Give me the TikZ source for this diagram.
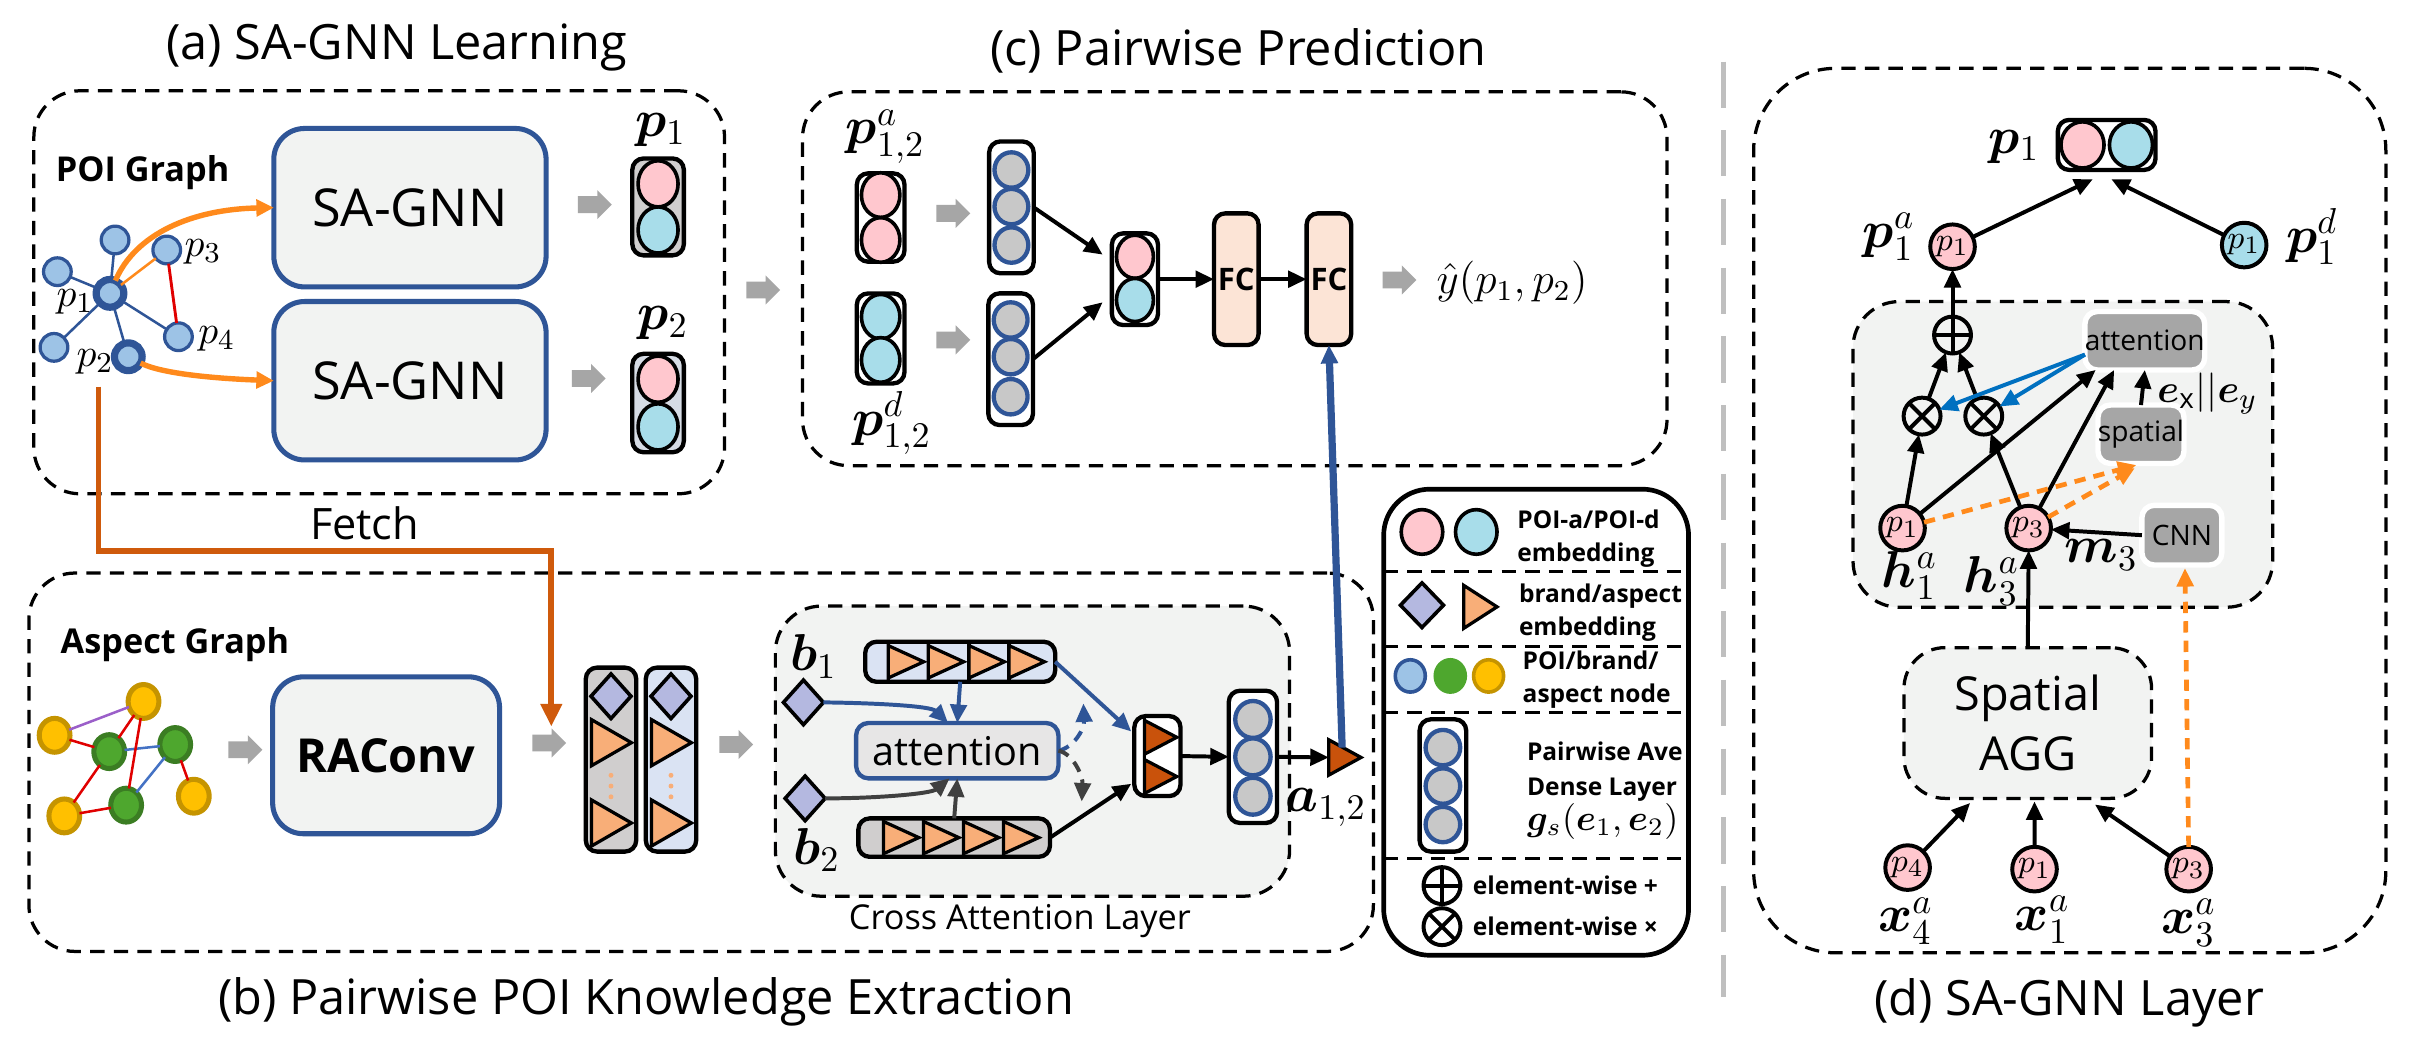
\documentclass[tikz,border=0pt]{standalone}
\usepackage{amsmath}
\usepackage{bm}
\usepackage{fontspec}
\setmainfont{Open Sans}
\usetikzlibrary{shapes.geometric,shapes.arrows,arrows.meta,calc}
\definecolor{pinkc}{HTML}{FFC7CE}
\definecolor{cyanc}{HTML}{A8DDEA}
\definecolor{poiblue}{HTML}{9DC3E6}
\definecolor{dblue}{HTML}{2F5597}
\definecolor{boxfill}{HTML}{F2F3F2}
\definecolor{vgray}{HTML}{D0CECE}
\definecolor{vblue}{HTML}{DAE3F3}
\definecolor{vbg}{HTML}{D6DCE5}
\definecolor{garr}{HTML}{A6A6A6}
\definecolor{lorange}{HTML}{FF8A1C}
\definecolor{forange}{HTML}{CF5A0C}
\definecolor{trif}{HTML}{F8AE78}
\definecolor{trid}{HTML}{C9520B}
\definecolor{diaf}{HTML}{B4B8E0}
\definecolor{fcfill}{HTML}{FCE4D6}
\definecolor{attfill}{HTML}{E7E6E6}
\definecolor{dkg}{HTML}{A6A6A6}
\definecolor{ablue}{HTML}{0070C0}
\definecolor{yel}{HTML}{FFC000}
\definecolor{yelb}{HTML}{C59400}
\definecolor{grn}{HTML}{4EA72E}
\definecolor{grnb}{HTML}{3B7D23}
\definecolor{ered}{HTML}{E00000}
\definecolor{eblue}{HTML}{4472C4}
\definecolor{epurp}{HTML}{9B5FC9}
\definecolor{circg}{HTML}{C8C8C8}
\definecolor{sepg}{HTML}{BFBFBF}
\definecolor{dgray}{HTML}{404040}
\tikzset{
 sz/.style 2 args={minimum width=#1*0.15mm,minimum height=#2*0.15mm,inner sep=0pt,outer sep=0pt},
 dsh/.style={dash pattern=on 1.4mm off 0.9mm},
 sdsh/.style={dash pattern=on 1.1mm off 0.8mm},
 panel/.style={draw=black,line width=0.9pt,dsh,rounded corners=4.5mm},
 ttl/.style={font=\fontsize{13.5}{16}\selectfont},
 glab/.style={font=\bfseries\fontsize{9.5}{11}\selectfont,inner sep=0pt},
 garrow/.style={single arrow,fill=garr,draw=none,minimum height=3.3mm,minimum width=2.7mm,inner sep=0.75mm,single arrow head extend=0.6mm},
 poin/.style={circle,draw=dblue,fill=poiblue,line width=0.9pt,sz={18}{18}},
 gedge/.style={draw=dblue,line width=0.7pt},
 plab/.style={font=\fontsize{11}{12}\selectfont,inner sep=0pt},
 mlab/.style={font=\fontsize{14}{16}\selectfont,inner sep=0pt},
 oarr/.style={draw=lorange,line width=1.5pt,-{Triangle[length=1.7mm,width=1.6mm]}},
 fetchl/.style={draw=forange,line width=1.6pt,-{Triangle[length=2.2mm,width=2mm]}},
 sabox/.style={draw=dblue,line width=1.4pt,fill=boxfill,rounded corners=3mm},
 vbox/.style={draw=black,line width=1.2pt,rounded corners=1.1mm},
 vc/.style={ellipse,draw=black,line width=1pt},
 gc/.style={ellipse,draw=dblue,fill=circg,line width=1.2pt},
 fcbox/.style={draw=black,fill=fcfill,line width=1.2pt,rounded corners=1.1mm,font=\bfseries\fontsize{8.6}{10}\selectfont},
 barr/.style={draw=black,line width=1.1pt,-{Triangle[length=1.8mm,width=1.6mm]}},
 blarr/.style={draw=dblue,line width=1.1pt,-{Triangle[length=1.8mm,width=1.6mm]}},
 gyarr/.style={draw=dgray,line width=1.1pt,-{Triangle[length=1.8mm,width=1.6mm]}},
 abarr/.style={draw=ablue,line width=1.1pt,-{Triangle[length=1.8mm,width=1.6mm]}},
 odarr/.style={draw=lorange,line width=1.3pt,sdsh,-{Triangle[length=1.8mm,width=1.6mm]}},
 yn/.style={ellipse,draw=yelb,fill=yel,line width=1.4pt,sz={20}{22}},
 gn/.style={ellipse,draw=grnb,fill=grn,line width=1.4pt,sz={20}{22}},
 dia/.style={diamond,draw=black,fill=diaf,line width=1pt},
 dkbox/.style={fill=dkg,draw=white,line width=1.5pt,rounded corners=1.2mm,font=\fontsize{7.8}{9}\selectfont},
 opl/.style={circle,draw=black,line width=1.1pt,sz={24}{24}},
 pk/.style={circle,draw=black,fill=pinkc,line width=1.1pt,sz={29}{29},font=\fontsize{9.5}{10}\selectfont},
 legt/.style={align=left,font=\bfseries\fontsize{6.8}{9.2}\selectfont,inner sep=0pt},
}
\newcommand\mytri[5]{\filldraw[fill=#5,draw=black,line width=0.9pt,line join=miter] ({#1},{#2-#4/2}) -- ({#1+#3},{#2}) -- ({#1},{#2+#4/2}) -- cycle;}
\newcommand\oplusat[2]{\node[opl] (#1) at #2 {}; \draw[line width=1.1pt] (#1.north) -- (#1.south) (#1.east) -- (#1.west);}
\newcommand\otimesat[2]{\node[opl] (#1) at #2 {}; \draw[line width=1.1pt] (#1.north east) -- (#1.south west) (#1.north west) -- (#1.south east);}
\begin{document}
\begin{tikzpicture}[x=0.15mm,y=-0.15mm]
\useasboundingbox (0,0) rectangle (1568,683);
\fill[white] (0,0) rectangle (1568,683);

% ---------- titles
\node[ttl] (tA) at (258,31) {(a) SA-GNN Learning};
\node[ttl] (tC) at (805,33) {(c) Pairwise Prediction};
\node[ttl] (tB) at (420,651) {(b) Pairwise POI Knowledge Extraction};
\node[ttl] (tD) at (1345,652) {(d) SA-GNN Layer};

% ---------- panels
\node[panel,sz={449}{262}] (panA) at (246.5,190) {};
\node[panel,sz={562}{243}] (panC) at (802.7,181.2) {};
\node[panel,sz={874}{246}] (panB) at (455.8,495.5) {};
\node[panel,sz={411}{575},rounded corners=8mm] (panD) at (1345.5,331.9) {};
\coordinate (sepT) at (1120.5,40);
\coordinate (sepB) at (1120.5,648);
\draw[sepg,line width=1.3pt,dash pattern=on 4.5mm off 2.2mm] (sepT) -- (sepB);

% ---------- panel (a)
\node[glab,anchor=west] (poiG) at (35.8,112) {POI Graph};
\node[poin] (g1) at (74.8,156) {};
\node[poin] (g3) at (108.4,162.5) {};
\node[poin] (gL) at (37.3,176.6) {};
\node[poin,line width=2pt] (g0) at (71.5,190.7) {};
\node[poin] (g4) at (116,218.9) {};
\node[poin] (gB) at (35.1,225.8) {};
\node[poin,line width=2pt] (g2) at (83.4,231.9) {};
\draw[gedge] (g0) -- (g1);
\draw[gedge] (g0) -- (gL);
\draw[gedge] (g0) -- (gB);
\draw[gedge] (g0) -- (g2);
\draw[gedge] (g0) -- (g4);
\draw[draw=lorange,line width=0.7pt] (g0) -- (g3);
\draw[draw=ered,line width=0.8pt] (g3) -- (g4);
\node[plab] (l3) at (132,163.6) {$p_3$};
\node[plab] (l1) at (48.8,196) {$p_1$};
\node[plab] (l4) at (140.9,220) {$p_4$};
\node[plab] (l2) at (61.8,235) {$p_2$};

\node[sabox,sz={177}{103},font=\fontsize{14.5}{16}\selectfont] (sa1) at (266.5,135) {SA-GNN};
\node[sabox,sz={177}{103},font=\fontsize{14.5}{16}\selectfont] (sa2) at (266.5,247.5) {SA-GNN};
\draw[oarr] (g0) .. controls (88,152) and (125,136) .. (sa1.west);
\draw[oarr] (g2) .. controls (105,243) and (140,246) .. (sa2.west);

\node[garrow] (ga1) at (384,133) {};
\node[garrow] (ga2) at (380,246) {};

\node[vbox,fill=vgray,sz={33.5}{63}] (v1) at (427.8,134.5) {};
\node[vc,fill=pinkc,sz={26}{30}] (v1a) at (427.8,119.5) {};
\node[vc,fill=cyanc,sz={26}{30}] (v1b) at (427.8,149.5) {};
\node[mlab] (lp1) at (429.5,84.5) {$\boldsymbol{p}_1$};
\node[vbox,fill=vbg,sz={33.5}{64}] (v2) at (427.8,262) {};
\node[vc,fill=pinkc,sz={26}{30}] (v2a) at (427.8,246.5) {};
\node[vc,fill=cyanc,sz={26}{30}] (v2b) at (427.8,277.5) {};
\node[mlab] (lp2) at (431,210) {$\boldsymbol{p}_2$};

\node[garrow] (ga3) at (493.4,188.5) {};

% Fetch
\coordinate (fS) at (64,251.4);
\coordinate (fK) at (358.4,358);
\coordinate (fE) at (358.4,472.3);
\draw[fetchl] (fS) |- (fK) -- (fE);
\node[font=\fontsize{12}{14}\selectfont] (fetch) at (237,340) {Fetch};

% ---------- panel (c)
\node[mlab] (lpa) at (575.6,88.8) {$\boldsymbol{p}^{a}_{1,2}$};
\node[mlab] (lpd) at (579.8,275) {$\boldsymbol{p}^{d}_{1,2}$};
\node[vbox,fill=white,sz={31}{57.4}] (ca) at (572.5,141.4) {};
\node[vc,fill=pinkc,sz={25}{29}] (ca1) at (572.5,126.8) {};
\node[vc,fill=pinkc,sz={25}{29}] (ca2) at (572.5,156) {};
\node[vbox,fill=white,sz={31}{58.5}] (cd) at (572.5,220) {};
\node[vc,fill=cyanc,sz={25}{29}] (cd1) at (572.5,205.9) {};
\node[vc,fill=cyanc,sz={25}{29}] (cd2) at (572.5,234) {};
\node[garrow] (ga4) at (617,138.7) {};
\node[garrow] (ga5) at (617,221) {};
\node[vbox,fill=white,sz={29}{85.7}] (d1) at (657.5,134.8) {};
\node[gc,sz={22}{23}] (d1a) at (657.5,110.5) {};
\node[gc,sz={22}{23}] (d1b) at (657.5,134.3) {};
\node[gc,sz={22}{23}] (d1c) at (657.5,159.3) {};
\node[vbox,fill=white,sz={29}{85.6}] (d2) at (657,233.5) {};
\node[gc,sz={22}{23}] (d2a) at (657,208) {};
\node[gc,sz={22}{23}] (d2b) at (657,231.9) {};
\node[gc,sz={22}{23}] (d2c) at (657,257.9) {};
\node[vbox,fill=white,sz={30}{59.6}] (cc) at (737.8,181.5) {};
\node[vc,fill=pinkc,sz={24}{28}] (cc1) at (737.8,166.9) {};
\node[vc,fill=cyanc,sz={24}{28}] (cc2) at (737.8,195) {};
\node[fcbox,sz={29}{85.6}] (fc1) at (803.7,181.5) {FC};
\node[fcbox,sz={29}{85.6}] (fc2) at (863.9,181.5) {FC};
\draw[barr] (d1.east) -- ($(cc.west)+(-6,-16)$);
\draw[barr] (d2.east) -- ($(cc.west)+(-6,15)$);
\draw[barr] (cc.east) -- (fc1.west);
\draw[barr] (fc1.east) -- (fc2.west);
\node[garrow] (ga6) at (907,182) {};
\node[font=\fontsize{11.5}{13}\selectfont,inner sep=0pt] (yhat) at (983,184) {$\hat{y}(p_1,p_2)$};

% ---------- panel (b)
\node[glab,anchor=west] (aspG) at (39,419) {Aspect Graph};
\node[yn] (yT) at (93.3,456) {};
\node[yn] (yL) at (35.5,478) {};
\node[gn] (gC) at (71,488.6) {};
\node[gn] (gR) at (113.9,484) {};
\node[yn] (yBL) at (41.8,530.4) {};
\node[gn] (gBt) at (82,523.4) {};
\node[yn] (yR) at (126,517.6) {};
\draw[epurp,line width=0.7pt] (yL) -- (yT);
\draw[ered,line width=0.7pt] (yL) -- (gC);
\draw[ered,line width=0.7pt] (gC) -- (yT);
\draw[eblue,line width=0.7pt] (gC) -- (gR);
\draw[ered,line width=0.7pt] (gC) -- (yBL);
\draw[ered,line width=0.7pt] (yBL) -- (gBt);
\draw[ered,line width=0.7pt] (gBt) -- (yT);
\draw[eblue,line width=0.7pt] (gBt) -- (gR);
\draw[ered,line width=0.7pt] (gR) -- (yR);

\node[garrow] (ga7) at (156.8,487.4) {};
\node[sabox,sz={147.5}{102},font=\bfseries\fontsize{13}{15}\selectfont] (rac) at (251,491) {RAConv};
\node[garrow] (ga8) at (354.3,483) {};

\node[vbox,fill=vgray,sz={32.8}{119.6}] (vg) at (397.2,493.8) {};
\node[vbox,fill=vblue,sz={32.8}{119.6}] (vb) at (436.2,493.8) {};
\node[dia,sz={26}{29}] (dg) at (397.2,452.6) {};
\node[dia,sz={26}{29}] (db) at (436.2,452.6) {};
\mytri{384.5}{482.8}{26}{30}{trif}
\mytri{384.5}{535}{26}{30}{trif}
\mytri{423.5}{482.8}{26}{30}{trif}
\mytri{423.5}{535}{26}{30}{trif}
\foreach \yy in {504,511,518} {\fill[trif] (397.2,\yy) circle (1.6); \fill[trif] (436.2,\yy) circle (1.6);}
\node[garrow] (ga9) at (475.9,484) {};

% cross attention
\node[panel,fill=boxfill,sz={334.3}{188.6}] (cab) at (671.2,488.3) {};
\node[font=\fontsize{9.5}{11}\selectfont] (calab) at (663,599) {Cross Attention Layer};
\node[mlab] (lb1) at (528.8,427) {$\boldsymbol{b}_1$};
\node[mlab] (lb2) at (531,552.6) {$\boldsymbol{b}_2$};
\node[dia,sz={26}{29}] (bd1) at (522.3,456.6) {};
\node[dia,sz={26}{29}] (bd2) at (523.4,519) {};
\node[vbox,fill=vblue,sz={123.5}{26}] (tr) at (624.2,430.2) {};
\foreach \xx in {577.5,603.5,630,656} {\draw[line width=0.9pt] (\xx,417.2) -- (\xx,443.2); \mytri{\xx}{430.2}{23}{21}{trif}}
\node[vbox,fill=vgray,sz={124.6}{25}] (br) at (620.3,544.5) {};
\foreach \xx in {574.3,600.3,626.3,652.3} {\draw[line width=0.9pt] (\xx,532) -- (\xx,557); \mytri{\xx}{544.5}{23}{21}{trif}}
\node[draw=dblue,fill=attfill,line width=1.2pt,rounded corners=1.2mm,sz={131.5}{36},font=\fontsize{11}{12}\selectfont] (att) at (622.3,488) {attention};
\node[vbox,fill=white,sz={30}{52}] (ov) at (752.4,491.5) {};
\draw[line width=0.9pt] (744,465.4) -- (744,517.6);
\mytri{744}{479.3}{21}{22}{trid}
\mytri{744}{504.8}{21}{22}{trid}
\node[vbox,fill=white,sz={31.4}{86}] (dn) at (814.5,492) {};
\node[gc,sz={23}{24}] (dna) at (814.5,467.7) {};
\node[gc,sz={23}{24}] (dnb) at (814.5,492) {};
\node[gc,sz={23}{24}] (dnc) at (814.5,517.6) {};
\mytri{863.8}{492.4}{21}{23}{trid}
\coordinate (a12w) at (863.8,492.4);
\coordinate (a12t) at (872.5,486);
\node[mlab] (la12) at (862,525) {$\boldsymbol{a}_{1,2}$};
\coordinate (dU) at (704.3,457.3);
\coordinate (dD) at (703.2,521);

\draw[blarr] (bd1.east) .. controls (570,457) and (605,459) .. ($(att.north)+(-6,0)$);
\draw[blarr] (tr.south) -- (att.north);
\draw[gyarr] (bd2.east) .. controls (570,519) and (605,516) .. ($(att.south)+(-5,0)$);
\draw[gyarr] (br.north) -- (att.south);
\draw[blarr] (tr.east) -- ($(ov.west)+(-2,-16)$);
\draw[barr] (br.east) -- ($(ov.west)+(-2,18)$);
\draw[blarr,sdsh] (att.east) .. controls (698,486) and (705,474) .. (dU);
\draw[gyarr,sdsh] (att.east) .. controls (698,490) and (704,505) .. (dD);
\draw[barr] (ov.east) -- (dn.west);
\draw[barr] (dn.east) -- (a12w);
\draw[blarr,line width=2pt] (a12t) -- (fc2.south);

% ---------- legend
\node[draw=black,line width=1.3pt,rounded corners=4.5mm,fill=white,sz={198.2}{303}] (leg) at (998.6,469.5) {};
\node[vc,fill=pinkc,sz={27}{29}] (lg1) at (924.4,345.8) {};
\node[vc,fill=cyanc,sz={27}{29}] (lg2) at (959.7,345.8) {};
\node[legt,anchor=west] (lt1) at (986,350.2) {POI-a/POI-d\\embedding};
\draw[line width=0.9pt,dsh] (899.5,371.3) -- (1097.7,371.3);
\node[dia,sz={28}{29}] (lg3) at (924.4,393.4) {};
\mytri{951.5}{394.5}{21.7}{28}{trif}
\node[legt,anchor=west] (lt2) at (987,398) {brand/aspect\\embedding};
\draw[line width=0.9pt,dsh] (899.5,420.1) -- (1097.7,420.1);
\node[ellipse,draw=dblue,fill=poiblue,line width=1pt,sz={19.5}{21}] (lg4) at (916.8,439.4) {};
\node[ellipse,draw=grn,fill=grn,line width=1pt,sz={19.5}{21}] (lg5) at (942.8,439.4) {};
\node[ellipse,draw=yelb,fill=yel,line width=1pt,sz={19.5}{21}] (lg6) at (967.7,439.4) {};
\node[legt,anchor=west] (lt3) at (989.4,442) {POI/brand/\\aspect node};
\draw[line width=0.9pt,dsh] (899.5,463) -- (1097.7,463);
\node[vbox,fill=white,sz={30.3}{86}] (lg7) at (938,510.6) {};
\node[gc,sz={22.5}{23}] (lg7a) at (938,486) {};
\node[gc,sz={22.5}{23}] (lg7b) at (938,511) {};
\node[gc,sz={22.5}{23}] (lg7c) at (938,536) {};
\node[legt,anchor=west,font=\bfseries\fontsize{6.8}{9.6}\selectfont] (lt4) at (992.2,514) {Pairwise Ave\\Dense Layer\\{\fontsize{10}{10}\selectfont$\boldsymbol{g}_{s}(\boldsymbol{e}_1,\boldsymbol{e}_2)$}};
\draw[line width=0.9pt,dsh] (899.5,558.3) -- (1097.7,558.3);
\oplusat{lgp}{(937.4,575.7)}
\otimesat{lgx}{(937.4,602.4)}
\node[legt,anchor=west] (lt5) at (957,575.7) {element-wise +};
\node[legt,anchor=west] (lt6) at (957,602.4) {element-wise ×};

% ---------- panel (d)
\node[mlab] (dp1) at (1309.4,95.3) {$\boldsymbol{p}_1$};
\node[vbox,fill=white,sz={63.5}{32.5}] (pv) at (1369.5,94.2) {};
\node[vc,fill=pinkc,sz={28}{30}] (pv1) at (1353.8,94.2) {};
\node[vc,fill=cyanc,sz={28}{30}] (pv2) at (1385.3,94.2) {};
\node[pk] (pa) at (1269.3,160.4) {$p_1$};
\node[pk,fill=cyanc] (pd) at (1458.9,159.3) {$p_1$};
\node[mlab] (lpa1) at (1228,153.8) {$\boldsymbol{p}_1^{a}$};
\node[mlab] (lpd1) at (1503,153.8) {$\boldsymbol{p}_1^{d}$};
\draw[barr] (pa) -- ($(pv.south)+(-9,6)$);
\draw[barr] (pd) -- ($(pv.south)+(3,6)$);

\node[panel,fill=boxfill,sz={272.8}{198.7}] (ib) at (1341,295.4) {};
\oplusat{op}{(1269.3,217.8)}
\otimesat{oxL}{(1249.5,270.5)}
\otimesat{oxR}{(1289.6,270.5)}
\node[dkbox,sz={72.3}{38}] (ab) at (1394.3,221.5) {attention};
\node[dkbox,sz={52}{38}] (sp) at (1391.8,282.3) {spatial};
\node[dkbox,sz={52}{38.8}] (cnn) at (1418.4,347.9) {CNN};
\node[font=\fontsize{11}{12}\selectfont,inner sep=0pt] (exy) at (1435,255.7) {$\boldsymbol{e}_{\mathrm{x}}||\boldsymbol{e}_{y}$};
\node[pk] (h1) at (1236.8,343.3) {$p_1$};
\node[pk] (h3) at (1318.8,343.3) {$p_3$};
\node[mlab] (lh1) at (1241.4,374.1) {$\boldsymbol{h}_1^{a}$};
\node[mlab] (lh3) at (1294.7,377.6) {$\boldsymbol{h}_3^{a}$};
\node[mlab] (lm3) at (1366,361) {$\boldsymbol{m}_3$};

\draw[barr] (op.north) -- (pa.south);
\draw[barr] (oxL) -- (op);
\draw[barr] (oxR) -- (op);
\draw[barr] (h1) -- (oxL);
\draw[barr] (h3) -- (oxR);
\draw[barr] (h1) -- ($(ab.south west)+(7,0)$);
\draw[barr] (h3) -- ($(ab.south west)+(19,0)$);
\draw[abarr] ($(ab.west)+(0,9)$) -- (oxL);
\draw[abarr] ($(ab.west)+(0,9)$) -- (oxR);
\draw[barr] (sp.north) -- (ab.south);
\draw[odarr] (h1) -- ($(sp.south)+(-3,1)$);
\draw[odarr] (h3) -- ($(sp.south)+(-4,3)$);
\draw[barr] (cnn.west) -- (h3);

\node[panel,fill=boxfill,sz={161}{98},rounded corners=4mm,font=\fontsize{13}{16.5}\selectfont,align=center] (agg) at (1318.2,470) {Spatial\\AGG};
\draw[barr] (agg.north) -- (h3.south);
\node[pk] (q4) at (1240.1,564) {$p_4$};
\node[pk] (q1) at (1322.6,565) {$p_1$};
\node[pk] (q3) at (1422.8,565) {$p_3$};
\draw[barr] (q4) -- ($(agg.south)+(-37.5,3)$);
\draw[barr] (q1) -- ($(agg.south)+(4.4,2)$);
\draw[barr] (q3) -- ($(agg.south)+(43.7,4)$);
\draw[odarr] (q3.north) -- ($(cnn.south)+(2,2)$);
\node[mlab] (lx4) at (1238.8,598.8) {$\boldsymbol{x}_4^{a}$};
\node[mlab] (lx1) at (1327.7,597.7) {$\boldsymbol{x}_1^{a}$};
\node[mlab] (lx3) at (1422.8,600) {$\boldsymbol{x}_3^{a}$};
\end{tikzpicture}
\end{document}
